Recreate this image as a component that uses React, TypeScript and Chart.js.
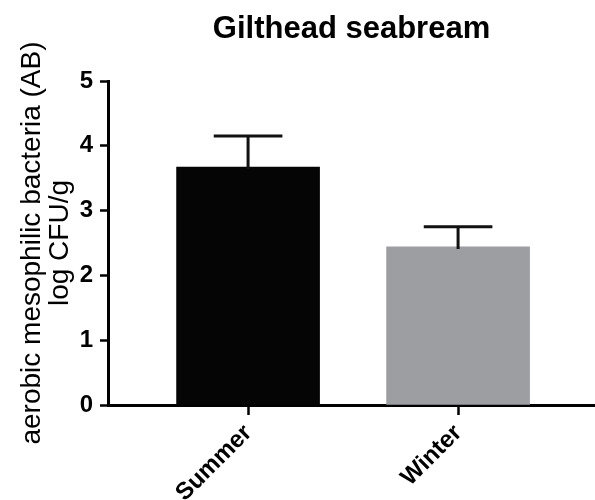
import React, { useEffect, useRef } from "react";
import { Chart, registerables } from "chart.js";

Chart.register(...registerables);

const categories = ["Summer", "Winter"];
const means = [3.67, 2.44];
const errors = [0.48, 0.31];
const barColors = ["#050505", "#9d9ea2"];
const yTicks = [0, 1, 2, 3, 4, 5];

const FONT = "'Liberation Sans', Arial, Helvetica, sans-serif";

const errorBarPlugin = {
  id: "errorBars",
  afterDatasetsDraw(chart: any) {
    const meta = chart.getDatasetMeta(0);
    const yScale = chart.scales.y;
    const ctx = chart.ctx;
    ctx.save();
    ctx.strokeStyle = "#111";
    ctx.lineWidth = 3;
    ctx.lineCap = "butt";
    meta.data.forEach((bar: any, i: number) => {
      const x = bar.x;
      const yTop = yScale.getPixelForValue(means[i] + errors[i]);
      const yBase = yScale.getPixelForValue(means[i]) + 2;
      const capHalf = bar.width * 0.24;
      ctx.beginPath();
      ctx.moveTo(x, yBase);
      ctx.lineTo(x, yTop);
      ctx.moveTo(x - capHalf, yTop);
      ctx.lineTo(x + capHalf, yTop);
      ctx.stroke();
    });
    ctx.restore();
  },
};

export default function App() {
  const ref = useRef<HTMLCanvasElement>(null);
  useEffect(() => {
    if (!ref.current) return;
    const chart = new Chart(ref.current, {
      type: "bar",
      data: {
        datasets: [
          {
            data: categories.map((c, i) => ({ x: i, y: means[i] })),
            backgroundColor: barColors,
            borderWidth: 0,
            barThickness: 143,
          },
        ],
      },
      plugins: [errorBarPlugin],
      options: {
        responsive: false,
        animation: false,
        devicePixelRatio: 1,
        layout: { padding: 0 },
        plugins: {
          legend: { display: false },
          tooltip: { enabled: false },
          title: {
            display: true,
            fullSize: false,
            text: "Gilthead seabream",
            color: "#000",
            font: { family: FONT, size: 31, weight: "bold", lineHeight: 1.2 },
            padding: { top: 11, bottom: 32.8 },
          },
        },
        scales: {
          x: {
            type: "linear",
            offset: false,
            min: -0.667,
            max: 1.652,
            afterBuildTicks: (scale: any) => {
              scale.ticks = categories.map((_, i) => ({ value: i }));
            },
            afterFit: (scale: any) => {
              scale.height = 95;
            },
            ticks: {
              color: "#000",
              font: { family: FONT, size: 24, weight: "bold" },
              minRotation: 45,
              maxRotation: 45,
              padding: 4,
              callback: (v: any) => categories[v] ?? "",
            },
            grid: {
              offset: false,
              drawOnChartArea: false,
              drawTicks: true,
              tickLength: 10,
              tickWidth: 2.5,
              tickColor: "#000",
            },
            border: { display: true, color: "#000", width: 3 },
          },
          y: {
            min: 0,
            max: 5,
            afterBuildTicks: (scale: any) => {
              scale.ticks = yTicks.map((v) => ({ value: v }));
            },
            afterFit: (scale: any) => {
              scale.width = 108;
            },
            ticks: {
              color: "#000",
              font: { family: FONT, size: 24, weight: "bold" },
              padding: 7,
            },
            grid: {
              drawOnChartArea: false,
              drawTicks: true,
              tickLength: 8,
              tickWidth: 2.5,
              tickColor: "#000",
            },
            border: { display: true, color: "#000", width: 3 },
            title: {
              display: true,
              text: ["aerobic mesophilic bacteria (AB)", "log CFU/g"],
              color: "#000",
              font: { family: FONT, size: 28, weight: "normal", lineHeight: 1.0 },
              padding: { top: 18, bottom: 0 },
            },
          },
        },
      },
    });
    return () => chart.destroy();
  }, []);
  return (
    <div style={{ position: "fixed", left: 0, top: 0, width: 595, height: 500, background: "#fff" }}>
      <canvas ref={ref} width={595} height={500} style={{ width: 595, height: 500 }} />
    </div>
  );
}
